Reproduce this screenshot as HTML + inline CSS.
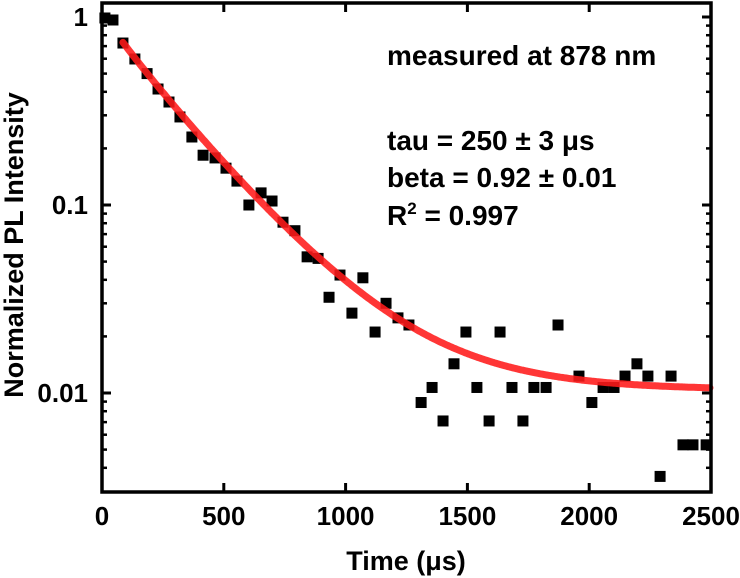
<!DOCTYPE html>
<html><head><meta charset="utf-8"><style>
html,body{margin:0;padding:0;background:#fff;}
svg{display:block;font-family:"Liberation Sans",Arial,sans-serif;font-weight:bold;}
</style></head><body>
<svg id="chart" width="740" height="578" viewBox="0 0 740 578">
<g id="marks"></g>
<g id="axes"></g>
<text x="387" y="65" font-size="28">measured at 878 nm</text>
<text x="387" y="150" font-size="28">tau = 250 ± 3 μs</text>
<text x="387" y="187" font-size="28">beta = 0.92 ± 0.01</text>
<text x="387" y="225" font-size="28">R<tspan dy="-11" font-size="17">2</tspan><tspan dy="11"> = 0.997</tspan></text>
<text x="406" y="570" font-size="27" text-anchor="middle">Time (μs)</text>
<text transform="translate(23,245) rotate(-90)" font-size="27" text-anchor="middle">Normalized PL Intensity</text>
</svg>
<script>
const times = [12,45,86,135,185,230,275,320,369,415,464,509,554,603,653,698,743,792,842,887,932,977,1026,1071,1121,1166,1215,1260,1310,1355,1400,1445,1494,1539,1589,1634,1683,1728,1773,1823,1872,1958,2011,2057,2102,2147,2196,2241,2291,2336,2385,2426,2480];
const intensities = [0.988,0.964,0.727,0.598,0.50,0.414,0.353,0.294,0.230,0.184,0.178,0.157,0.134,0.100,0.116,0.105,0.081,0.073,0.053,0.052,0.0323,0.0424,0.0266,0.041,0.0211,0.030,0.0251,0.023,0.0089,0.0107,0.0071,0.0143,0.0211,0.0107,0.0071,0.0211,0.0107,0.0071,0.0107,0.0107,0.023,0.0123,0.0089,0.0107,0.0107,0.0123,0.0143,0.0123,0.0036,0.0123,0.0053,0.0053,0.0053];
const fitParams = [1.05, 250, 0.92, 0.0104]; // amplitude, tau, beta, offset
const fitRange = [86, 2500];
const xTicks = [0,500,1000,1500,2000,2500];
const yTicks = [1,0.1,0.01];
const yTickLabels = ["1","0.1","0.01"];

const X0=102, X1=711, YTOP=3, YBOT=492;
const xMin=0, xMax=2500;
function sx(t){return X0+(t-xMin)/(xMax-xMin)*(X1-X0);}
function sy(v){return 17-Math.log10(v)*188;}
const NS="http://www.w3.org/2000/svg";
const marks=document.getElementById('marks'), axes=document.getElementById('axes');
function mk(tag,attrs,parent){const e=document.createElementNS(NS,tag);for(const k in attrs)e.setAttribute(k,attrs[k]);parent.appendChild(e);return e;}

for(let i=0;i<times.length;i++){
  const r=mk('rect',{x:sx(times[i])-5.5,y:sy(intensities[i])-5.5,width:11,height:11,fill:'#000'},marks);
  
  
}
let d='';
for(let t=fitRange[0];t<=fitRange[1];t+=5){
  const v=fitParams[0]*Math.exp(-Math.pow(t/fitParams[1],fitParams[2]))+fitParams[3];
  d+=(d?'L':'M')+sx(t).toFixed(1)+' '+sy(v).toFixed(1);
}
const fit=mk('path',{d:d,fill:'none',stroke:'#ff1a1a','stroke-width':7,'stroke-linecap':'round','stroke-opacity':0.88},marks);



const frame=mk('rect',{x:X0,y:YTOP,width:X1-X0,height:YBOT-YTOP,fill:'none',stroke:'#000','stroke-width':3.5},axes);



xTicks.forEach(t=>{
  const x=sx(t);
  if(t>xMin&&t<xMax){
    mk('line',{x1:x,x2:x,y1:YBOT,y2:YBOT-9,stroke:'#000','stroke-width':3},axes);
    mk('line',{x1:x,x2:x,y1:YTOP,y2:YTOP+9,stroke:'#000','stroke-width':3},axes);
  }
  const tx=mk('text',{x:x,y:525,'font-size':26,'text-anchor':'middle'},axes);
  tx.textContent=t;
  
  
});
yTicks.forEach((v,i)=>{
  const y=sy(v);
  mk('line',{x1:X0,x2:X0+9,y1:y,y2:y,stroke:'#000','stroke-width':3},axes);
  mk('line',{x1:X1,x2:X1-9,y1:y,y2:y,stroke:'#000','stroke-width':3},axes);
  const tx=mk('text',{x:88,y:y+9,'font-size':26,'text-anchor':'end'},axes);
  tx.textContent=yTickLabels[i];
  
  
});
[0.001,0.01,0.1].forEach(base=>{
  for(let m=2;m<=9;m++){
    const v=base*m, y=sy(v);
    if(y<YTOP+2||y>YBOT-2) continue;
    mk('line',{x1:X0,x2:X0+5,y1:y,y2:y,stroke:'#000','stroke-width':2.5},axes);
    mk('line',{x1:X1,x2:X1-5,y1:y,y2:y,stroke:'#000','stroke-width':2.5},axes);
  }
});
</script>
</body></html>
